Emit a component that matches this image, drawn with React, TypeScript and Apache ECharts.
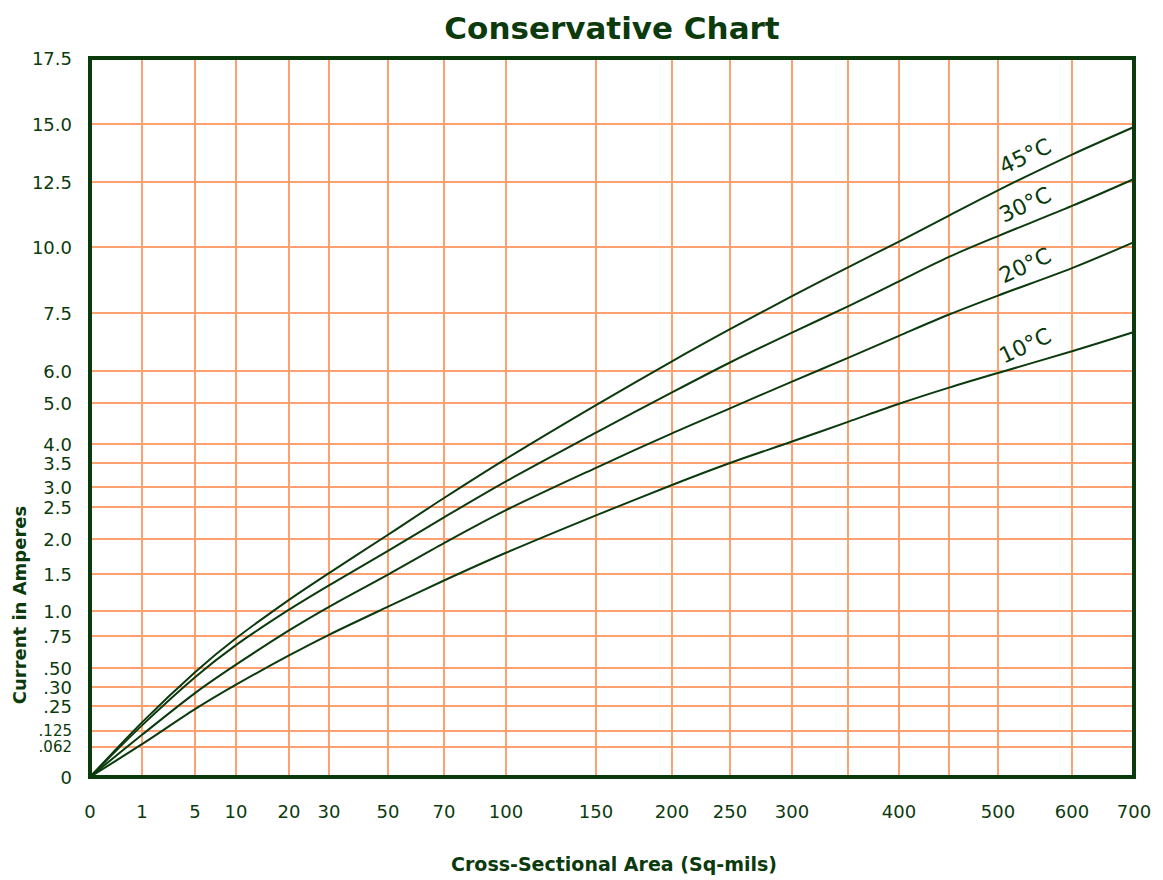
import React, { useEffect, useRef } from "react";
import * as echarts from "echarts";

// ---- data ----
const xTickValues = [0, 1, 5, 10, 20, 30, 50, 70, 100, 150, 200, 250, 300, 350, 400, 450, 500, 600, 700];
const xTickLabels = ["0", "1", "5", "10", "20", "30", "50", "70", "100", "150", "200", "250", "300", "", "400", "", "500", "600", "700"];
const yTickValues = [0, 0.062, 0.125, 0.25, 0.3, 0.5, 0.75, 1, 1.5, 2, 2.5, 3, 3.5, 4, 5, 6, 7.5, 10, 12.5, 15, 17.5];
const yTickLabels = ["0", ".062", ".125", ".25", ".30", ".50", ".75", "1.0", "1.5", "2.0", "2.5", "3.0", "3.5", "4.0", "5.0", "6.0", "7.5", "10.0", "12.5", "15.0", "17.5"];

const areaSqMils = [0, 1, 5, 10, 20, 30, 50, 70, 100, 150, 200, 250, 300, 350, 400, 450, 500, 600, 700];
const amps45C = [0, 0.168, 0.455, 0.732, 1.151, 1.513, 2.066, 2.725, 3.61, 4.95, 6.25, 7.08, 8.14, 9.23, 10.21, 11.21, 12.18, 13.68, 14.87];
const amps30C = [0, 0.153, 0.403, 0.679, 1.018, 1.347, 1.831, 2.338, 3.117, 4.276, 5.331, 6.22, 6.993, 7.75, 8.7, 9.625, 10.42, 11.58, 12.63];
const amps20C = [0, 0.11, 0.284, 0.526, 0.806, 1.057, 1.492, 1.941, 2.45, 3.4, 4.26, 4.87, 5.67, 6.34, 6.91, 7.46, 8.16, 9.2, 10.19];
const amps10C = [0, 0.073, 0.234, 0.324, 0.598, 0.762, 1.058, 1.412, 1.803, 2.369, 3.042, 3.5, 4.06, 4.54, 4.98, 5.48, 5.94, 6.51, 7.01];
const curveNames = ["45°C", "30°C", "20°C", "10°C"];
const curves = [amps45C, amps30C, amps20C, amps10C];

const titleText = "Conservative Chart";
const xAxisName = "Cross-Sectional Area (Sq-mils)";
const yAxisName = "Current in Amperes";

// ---- layout (non-uniform chart paper: position of each grid line along its axis) ----
const xGridPos = [0, 52, 105, 146, 199, 239, 298, 354, 416, 506, 582, 640, 702, 758, 809, 859, 908, 982, 1044];
const yGridPos = [0, 30, 46, 71, 90, 109, 141, 166, 203, 238, 270, 290, 314, 333, 374, 406, 464, 530, 595, 653, 719];

const GREEN = "#0b3a0d";
const ORANGE = "#ffa070";

function toPos(v: number, vals: number[], pos: number[]): number {
  for (let i = 0; i < vals.length - 1; i++) {
    if (v <= vals[i + 1]) {
      const t = (v - vals[i]) / (vals[i + 1] - vals[i]);
      return pos[i] + t * (pos[i + 1] - pos[i]);
    }
  }
  return pos[pos.length - 1];
}

function indexFor(val: number, pos: number[]): number {
  return pos.findIndex((p) => Math.abs(p - val) < 0.5);
}

export default function App() {
  const ref = useRef<HTMLDivElement>(null);
  useEffect(() => {
    if (!ref.current) return;
    const chart = echarts.init(ref.current, undefined, { renderer: "svg" });
    const xMaxPos = toPos(xTickValues[xTickValues.length - 1], xTickValues, xGridPos);
    const yMaxPos = toPos(yTickValues[yTickValues.length - 1], yTickValues, yGridPos);

    const series = curves.map((amps, k) => {
      const data = areaSqMils.map((a, i) => [toPos(a, xTickValues, xGridPos), toPos(amps[i], yTickValues, yGridPos)]);
      const i500 = areaSqMils.indexOf(500);
      const i600 = areaSqMils.indexOf(600);
      const mid = [(data[i500][0] + data[i600][0]) / 2, (data[i500][1] + data[i600][1]) / 2];
      return {
        type: "line",
        name: curveNames[k],
        data,
        showSymbol: false,
        smooth: 0.3,
        silent: true,
        z: 3,
        lineStyle: { color: GREEN, width: 2 },
        markPoint: {
          symbol: "circle",
          symbolSize: 1,
          silent: true,
          itemStyle: { color: "rgba(0,0,0,0)" },
          label: {
            show: true,
            formatter: curveNames[k],
            position: "inside",
            rotate: 25,
            offset: [-2, -19],
            fontSize: 22,
            fontFamily: "DejaVu Sans",
            color: GREEN,
          },
          data: [{ coord: mid }],
        },
      };
    });

    const frameAxis = (position: string, max: number) => ({
      type: "value",
      position,
      min: 0,
      max,
      z: 5,
      axisLine: { show: true, onZero: false, lineStyle: { color: GREEN, width: 4, cap: "square" } },
      axisTick: { show: false },
      axisLabel: { show: false },
      splitLine: { show: false },
    });

    const option: any = {
      animation: false,
      backgroundColor: "#ffffff",
      grid: {
        left: 90,
        right: 29,
        top: 58,
        bottom: 103,
        show: false,
        containLabel: false,
        outerBoundsMode: "none",
      },
      xAxis: [
        {
          type: "value",
          min: 0,
          max: xMaxPos,
          axisLine: { show: false },
          axisTick: { show: false, customValues: xGridPos },
          axisLabel: {
            customValues: xGridPos,
            formatter: (v: number) => {
              const i = indexFor(v, xGridPos);
              return i >= 0 ? xTickLabels[i] : "";
            },
            fontFamily: "DejaVu Sans",
            fontSize: 18,
            color: GREEN,
            margin: 25,
            hideOverlap: false,
            showMinLabel: true,
            showMaxLabel: true,
          },
          splitLine: { show: true, lineStyle: { color: ORANGE, width: 2 } },
        },
        frameAxis("bottom", xMaxPos),
        frameAxis("top", xMaxPos),
      ],
      yAxis: [
        {
          type: "value",
          min: 0,
          max: yMaxPos,
          axisLine: { show: false },
          axisTick: { show: false, customValues: yGridPos },
          axisLabel: {
            customValues: yGridPos,
            formatter: (v: number) => {
              const i = indexFor(v, yGridPos);
              if (i < 0) return "";
              const t = yTickLabels[i];
              // the two lowest fractional labels sit very close together on the chart paper
              return i === 1 || i === 2 ? "{s|" + t + "}" : t;
            },
            fontFamily: "DejaVu Sans",
            fontSize: 18,
            color: GREEN,
            margin: 18,
            hideOverlap: false,
            showMinLabel: true,
            showMaxLabel: true,
            rich: {
              s: { fontFamily: "DejaVu Sans", fontSize: 15, lineHeight: 15, color: GREEN },
            },
          },
          splitLine: { show: true, lineStyle: { color: ORANGE, width: 2 } },
        },
        frameAxis("left", yMaxPos),
        frameAxis("right", yMaxPos),
      ],
      series,
      graphic: [
        {
          type: "text",
          x: 612,
          y: 28,
          style: {
            text: titleText,
            fill: GREEN,
            font: "bold 31px 'DejaVu Sans'",
            textAlign: "center",
            textVerticalAlign: "middle",
          },
        },
        {
          type: "text",
          x: 614,
          y: 864,
          style: {
            text: xAxisName,
            fill: GREEN,
            font: "bold 19px 'DejaVu Sans'",
            textAlign: "center",
            textVerticalAlign: "middle",
          },
        },
        {
          type: "text",
          x: 19,
          y: 605,
          rotation: Math.PI / 2,
          style: {
            text: yAxisName,
            fill: GREEN,
            font: "bold 18px 'DejaVu Sans'",
            textAlign: "center",
            textVerticalAlign: "middle",
          },
        },
      ],
    };
    chart.setOption(option);
    return () => chart.dispose();
  }, []);

  return (
    <div
      ref={ref}
      style={{ position: "fixed", left: 0, top: 0, width: 1163, height: 880, background: "#fff" }}
    />
  );
}
